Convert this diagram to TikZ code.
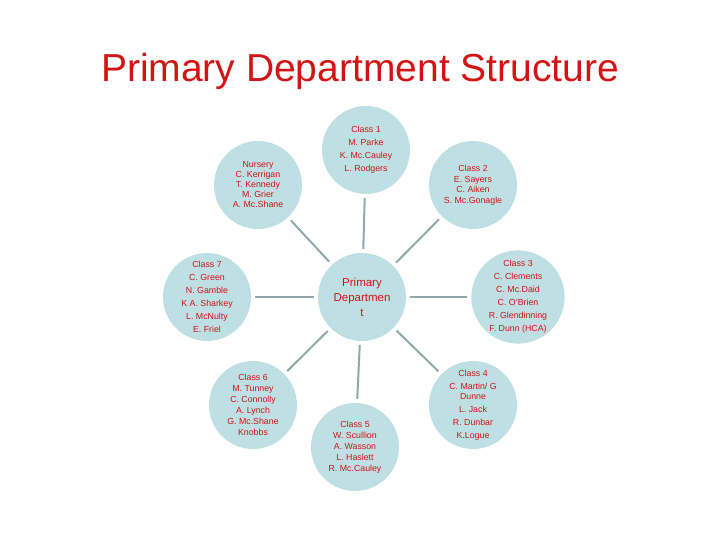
\documentclass[tikz,border=0pt]{standalone}
\usepackage{fontspec}
\setmainfont{Liberation Sans}
\begin{document}
\begin{tikzpicture}[x=1pt,y=-1pt,
  circ/.style={circle,fill=cfill,minimum size=88pt,inner sep=0pt,text=tred,align=center,font=\fontsize{8.8}{13}\selectfont},
  link/.style={draw=clink,line width=2pt,shorten <=4pt,shorten >=4pt}]
\definecolor{cfill}{RGB}{190,224,229}
\definecolor{clink}{RGB}{145,168,172}
\definecolor{tred}{RGB}{210,20,20}
\useasboundingbox (0,0) rectangle (720,540);
\node[text=tred,font=\fontsize{39}{44}\selectfont] (title) at (360,71) {Primary Department Structure};
\node[circ,font=\fontsize{11.5}{15}\selectfont] (c) at (362,297) {Primary\\Departmen\\t};
\node[circ] (n) at (258,185) {Nursery\\[-3pt]C. Kerrigan\\[-3pt]T. Kennedy\\[-3pt]M. Grier\\[-3pt]A. Mc.Shane};
\node[circ] (c1) at (366,150) {Class 1\\M. Parke\\K. Mc.Cauley\\L. Rodgers};
\node[circ] (c2) at (473,185) {Class 2\\[-2pt]E. Sayers\\[-3pt]C. Aiken\\[-2pt]S. Mc.Gonagle};
\node[circ] (c3) at (518,297) {Class 3\\C. Clements\\C. Mc.Daid\\C. O'Brien\\R. Glendinning\\F. Dunn (HCA)};
\node[circ] (c4) at (473,405) {Class 4\\C. Martin/ G\\[-3pt]Dunne\\L. Jack\\R. Dunbar\\K.Logue};
\node[circ] (c5) at (355,447) {Class 5\\[-2pt]W. Scullion\\[-2pt]A. Wasson\\[-2pt]L. Haslett\\[-2pt]R. Mc.Cauley};
\node[circ] (c6) at (253,405) {Class 6\\[-2pt]M. Tunney\\[-2pt]C. Connolly\\[-2pt]A. Lynch\\[-2pt]G. Mc.Shane\\[-2pt]Knobbs};
\node[circ] (c7) at (207,297) {Class 7\\C. Green\\N. Gamble\\K A. Sharkey\\L. McNulty\\E. Friel};
\foreach \t in {n,c1,c2,c3,c4,c5,c6,c7} \draw[link] (c) -- (\t);
\end{tikzpicture}
\end{document}
